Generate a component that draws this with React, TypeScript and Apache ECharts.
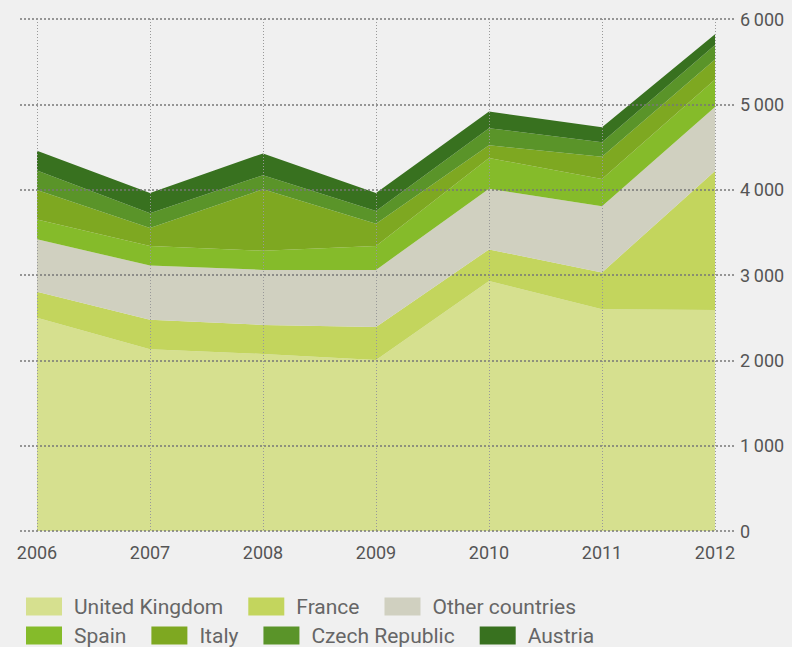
import React, { useEffect, useRef } from "react";
import * as echarts from "echarts";

const years = ["2006", "2007", "2008", "2009", "2010", "2011", "2012"];
const unitedKingdom = [2500, 2130, 2075, 2005, 2930, 2600, 2590];
const france = [305, 345, 340, 385, 370, 430, 1630];
const otherCountries = [615, 635, 645, 670, 710, 775, 750];
const spain = [230, 230, 225, 280, 360, 320, 320];
const italy = [345, 210, 720, 260, 150, 260, 235];
const czechRepublic = [230, 175, 165, 150, 200, 170, 170];
const austria = [230, 235, 255, 210, 195, 175, 125];

const seriesNames = ["United Kingdom", "France", "Other countries", "Spain", "Italy", "Czech Republic", "Austria"];
const seriesData = [unitedKingdom, france, otherCountries, spain, italy, czechRepublic, austria];
const colors = ["#d6e08f", "#c3d55d", "#d0d0c0", "#85bb2a", "#7ea821", "#5a9429", "#38711f"];
const yTicks = { min: 0, max: 6000, interval: 1000 };

export default function App() {
  const ref = useRef<HTMLDivElement>(null);
  useEffect(() => {
    if (!ref.current) return;
    const chart = echarts.init(ref.current, undefined, { renderer: "svg" });
    const font = "Roboto, 'Liberation Sans', sans-serif";
    const legendBase = {
      left: 26,
      padding: 0,
      itemWidth: 36,
      itemHeight: 18,
      itemGap: 25,
      icon: "rect",
      textStyle: { color: "#666", fontSize: 21, lineHeight: 20, fontFamily: font, padding: [0, 0, 0, 7] },
    };
    chart.setOption({
      animation: false,
      backgroundColor: "#f0f0f0",
      grid: [
        { left: 37, right: 77, top: 19, bottom: 116 },
        { left: 20, right: 56, top: 19, bottom: 116 },
      ],
      xAxis: [
        {
          type: "category",
          gridIndex: 0,
          data: years,
          boundaryGap: false,
          z: 10,
          axisLine: { show: false },
          axisTick: { show: false },
          axisLabel: { color: "#555", fontSize: 18, fontFamily: font, margin: 12 },
          splitLine: { show: true, lineStyle: { color: "#999", width: 1, type: [1, 2] } },
        },
        { type: "value", gridIndex: 1, show: false, min: 0, max: 1 },
      ],
      yAxis: [
        { type: "value", gridIndex: 0, show: false, ...yTicks },
        {
          type: "value",
          gridIndex: 1,
          position: "right",
          ...yTicks,
          z: 10,
          axisLine: { show: false },
          axisTick: { show: false },
          axisLabel: {
            color: "#555",
            fontSize: 18,
            fontFamily: font,
            margin: 4,
            formatter: (v: number) => (v >= 1000 ? String(Math.floor(v / 1000)) + "\u2009" + String(v % 1000).padStart(3, "0") : String(v)),
          },
          splitLine: { show: true, lineStyle: { color: "#777", width: 1.5, type: [2, 2] } },
        },
      ],
      legend: [
        { ...legendBase, data: seriesNames.slice(0, 3), top: 596 },
        { ...legendBase, data: seriesNames.slice(3), top: 625 },
      ],
      series: seriesNames.map((name, i) => ({
        name,
        type: "line",
        stack: "total",
        xAxisIndex: 0,
        yAxisIndex: 0,
        data: seriesData[i],
        showSymbol: false,
        symbol: "none",
        lineStyle: { width: 0 },
        itemStyle: { color: colors[i] },
        areaStyle: { color: colors[i], opacity: 1 },
      })),
    });
    return () => chart.dispose();
  }, []);
  return (
    <div
      ref={ref}
      style={{ position: "fixed", left: 0, top: 0, width: 792, height: 647, background: "#f0f0f0" }}
    />
  );
}
